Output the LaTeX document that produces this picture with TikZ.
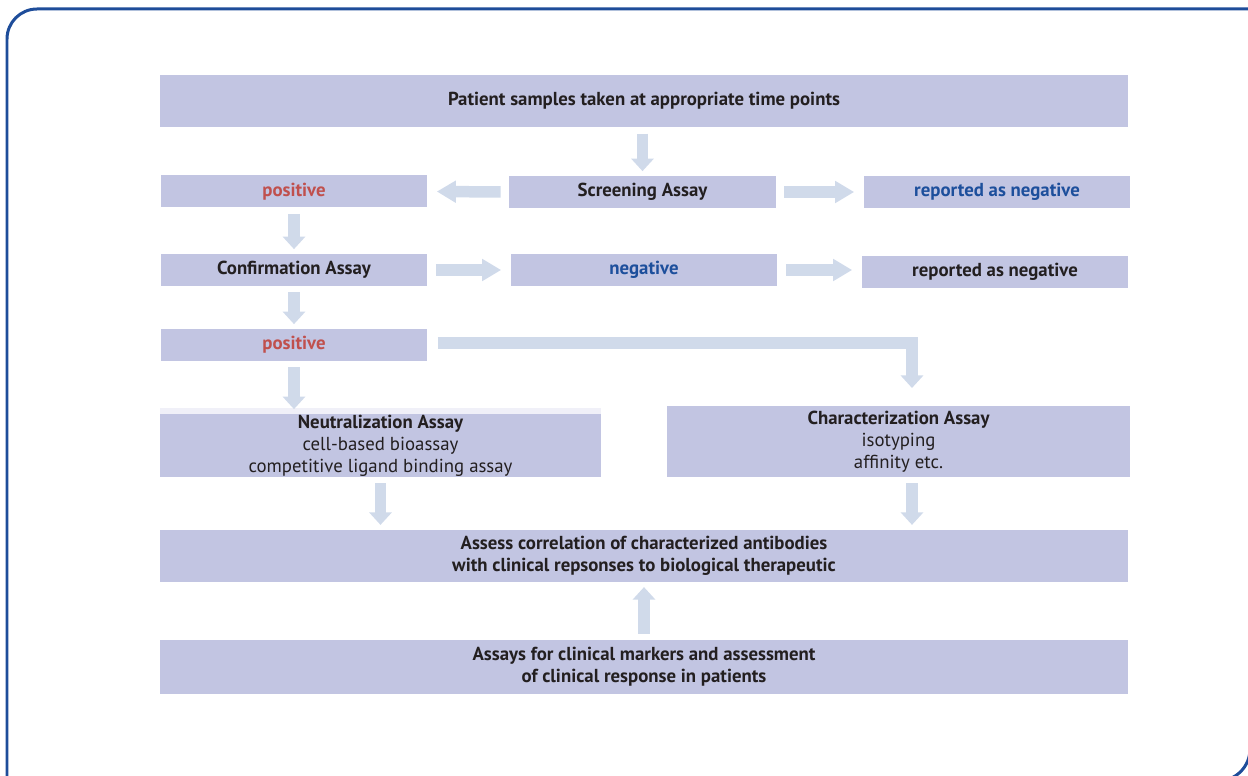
\documentclass[tikz,border=0pt]{standalone}
\usepackage{fontspec}
\setmainfont{PT Sans}
\usetikzlibrary{arrows.meta}
\usetikzlibrary{positioning}

\definecolor{boxfill}{HTML}{C2C5E2}
\definecolor{flow}{HTML}{D0DAEA}
\definecolor{ink}{HTML}{231F20}
\definecolor{posred}{HTML}{C0504D}
\definecolor{negblue}{HTML}{1D4F9C}
\definecolor{frameblue}{HTML}{1E4D9A}

\tikzset{
  box/.style={fill=boxfill, text=ink, font=\fontsize{10.7pt}{12.6pt}\selectfont\bfseries,
    inner sep=0pt, align=center},
  wide/.style={box, minimum width=19.36cm, minimum height=1.05cm},
  small/.style={box, minimum width=5.34cm, minimum height=0.64cm},
  hflow/.style={draw=flow, line width=0.23cm, -{Triangle[width=0.42cm,length=0.38cm]},
    shorten <=0.16cm, shorten >=0.18cm},
  vflow/.style={draw=flow, line width=0.23cm, -{Triangle[width=0.44cm,length=0.25cm]},
    shorten <=0.12cm, shorten >=0.09cm},
}

\begin{document}
\begin{tikzpicture}[x=0.02cm, y=-0.02cm]
  \useasboundingbox (0,0) rectangle (1248,776);
  \clip (0,0) rectangle (1248,776);

  % outer frame
  \draw[frameblue, line width=0.06cm, rounded corners=0.6cm] (1260,9) -- (7,9) -- (7,800);
  \draw[frameblue, line width=0.06cm, rounded corners=0.64cm] (1250,600) -- (1250,781) -- (1100,781);

  % boxes
  \node[wide] (top) at (644,101) {Patient samples taken at appropriate time points};
  \node[small] (scr) at (642.5,192) {Screening Assay};
  \node[small, text=posred] (pos1) at (294,191.5) {positive};
  \node[small, text=negblue] (rep1) at (997,192) {reported as negative};
  \node[small] (conf) at (294,270) {Confirmation Assay};
  \node[small, text=negblue] (neg) at (644,270) {negative};
  \node[small] (rep2) at (995,272) {reported as negative};
  \node[small, text=posred] (pos2) at (294,345) {positive};
  \fill[boxfill!25] (160,408) rectangle (601,414);
  \node[box, minimum width=8.82cm, minimum height=1.26cm] (neut) at (380.5,445.5)
    {Neutralization Assay\\\mdseries cell-based bioassay\\\mdseries competitive ligand binding assay};
  \node[box, minimum width=9.26cm, minimum height=1.42cm] (char) at (898.5,441.5)
    {Characterization Assay\\\mdseries isotyping\\\mdseries affinity etc.};
  \node[wide] (assess) at (644,556)
    {Assess correlation of characterized antibodies\\with clinical repsonses to biological therapeutic};
  \node[wide, minimum height=1.08cm] (assays) at (644,667)
    {Assays for clinical markers and assessment\\of clinical response in patients};

  \coordinate (bend) at (912,343);
  \coordinate (bendend) at (912,388);

  % flow arrows
  \draw[vflow] (top.south -| scr.north) -- (scr.north);
  \draw[hflow] (scr.west) -- (pos1.east);
  \draw[hflow] (scr.east) -- (rep1.west);
  \draw[vflow] (pos1.south) -- (conf.north);
  \draw[hflow] (conf.east) -- (neg.west);
  \draw[hflow] (neg.east) -- (neg.east -| rep2.west);
  \draw[vflow] (conf.south) -- (pos2.north);
  \draw[vflow, shorten <=0.2cm, shorten >=0cm] (pos2.east |- bend) -- (bend) -- (bendend);
  \draw[vflow] (pos2.south) -- (pos2.south |- neut.north);
  \draw[vflow] (neut.south) -- (assess.north -| neut.south);
  \draw[vflow] (char.south -| bend) -- (assess.north -| bend);
  \draw[vflow] (assays.north) -- (assess.south);
\end{tikzpicture}
\end{document}
